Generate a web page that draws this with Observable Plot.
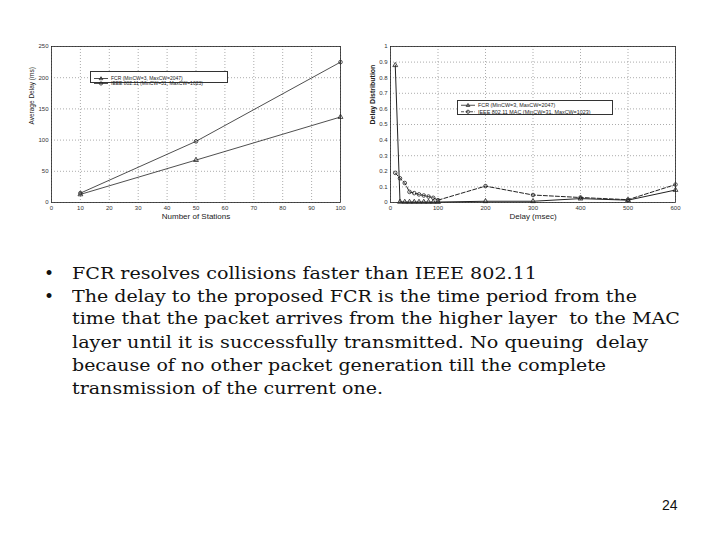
<!DOCTYPE html>
<html><head><meta charset="utf-8">
<script src="https://cdn.jsdelivr.net/npm/d3@7"></script>
<script src="https://cdn.jsdelivr.net/npm/@observablehq/plot@0.6"></script>
<style>
html,body{margin:0;padding:0;background:#fff}
body{width:720px;height:540px;position:relative;overflow:hidden;font-family:"Liberation Sans",Arial,sans-serif}
.chart{position:absolute}
.line{position:absolute;font-family:"DejaVu Serif",serif;font-size:17px;line-height:20px;white-space:pre;transform-origin:0 0;color:#111}
.bullet{position:absolute;font-family:"DejaVu Serif",serif;font-size:17px;line-height:20px;color:#111}
.legend{position:absolute;border:1px solid #333;background:#fff}
#page{position:absolute;left:662px;top:497px;font-size:14px;color:#111}
</style></head>
<body>
<div id="left" class="chart" style="left:10px;top:36px"></div>
<div id="right" class="chart" style="left:362px;top:36px"></div>
<div id="text"></div>
<div id="page">24</div>
<script>
// ---- data ----
const stations = [10, 50, 100];
const fcrAvgDelay = [13, 68, 137];
const ieeeAvgDelay = [15, 98, 225];

const delayMsec = [10, 20, 30, 40, 50, 60, 70, 80, 90, 100, 200, 300, 400, 500, 600];
const fcrDist  = [0.88, 0.004, 0.003, 0.003, 0.003, 0.003, 0.003, 0.003, 0.003, 0.003, 0.008, 0.008, 0.025, 0.015, 0.08];
const ieeeDist = [0.19, 0.155, 0.125, 0.068, 0.06, 0.052, 0.045, 0.038, 0.03, 0.015, 0.105, 0.048, 0.032, 0.018, 0.115];

const leftXTicks = [0, 10, 20, 30, 40, 50, 60, 70, 80, 90, 100];
const leftYTicks = [0, 50, 100, 150, 200, 250];
const rightXTicks = [0, 100, 200, 300, 400, 500, 600];
const rightYTicks = [0, 0.1, 0.2, 0.3, 0.4, 0.5, 0.6, 0.7, 0.8, 0.9, 1];

const leftSeries = ["FCR (MinCW=3, MaxCW=2047)", "IEEE 802.11 (MinCW=31, MaxCW=1023)"];
const rightSeries = ["FCR (MinCW=3, MaxCW=2047)", "IEEE 802.11 MAC (MinCW=31, MaxCW=1023)"];

const bulletLines = [
  "FCR resolves collisions faster than IEEE 802.11",
  "The delay to the proposed FCR is the time period from the",
  "time that the packet arrives from the higher layer  to the MAC",
  "layer until it is successfully transmitted. No queuing  delay",
  "because of no other packet generation till the complete",
  "transmission of the current one."
];
const bulletFlags = [true, true, false, false, false, false];

// ---- tables ----
const leftData = stations.flatMap((s, i) => [
  {x: s, y: fcrAvgDelay[i], series: leftSeries[0]},
  {x: s, y: ieeeAvgDelay[i], series: leftSeries[1]}
]);
const rightData = delayMsec.flatMap((d, i) => [
  {x: d, y: fcrDist[i], series: rightSeries[0]},
  {x: d, y: ieeeDist[i], series: rightSeries[1]}
]);

const ink = "#222";
const gridStyle = {stroke: "#888", strokeOpacity: 1, strokeDasharray: "1,2", strokeWidth: 0.7};

// ---- left chart ----
const left = Plot.plot({
  width: 345, height: 186,
  marginLeft: 41, marginRight: 15, marginTop: 10, marginBottom: 20,
  style: {fontFamily: "Liberation Sans, Arial, sans-serif", fontSize: "6px", color: "#333", background: "transparent"},
  x: {domain: [0, 100]},
  y: {domain: [0, 250]},
  marks: [
    Plot.gridX(leftXTicks, gridStyle),
    Plot.gridY(leftYTicks, gridStyle),
    Plot.axisX(leftXTicks, {tickSize: 0, tickPadding: 3, label: null, fontSize: 6}),
    Plot.axisY(leftYTicks, {tickSize: 0, tickPadding: 3, label: null, fontSize: 6}),
    Plot.frame({stroke: ink, strokeWidth: 0.8}),
    Plot.line(leftData, {x: "x", y: "y", z: "series", stroke: ink, strokeWidth: 0.8}),
    Plot.dot(leftData, {x: "x", y: "y", symbol: d => d.series === leftSeries[0] ? "triangle" : "circle", r: 1.8, stroke: ink, strokeWidth: 0.8, fill: "none"}),
    Plot.text(["Number of Stations"], {text: d => d, frameAnchor: "bottom", dy: 16, fontSize: 8, fill: "#222"}),
    Plot.text(["Average Delay (ms)"], {text: d => d, frameAnchor: "left", dx: -20, rotate: -90, fontSize: 6.5, fill: "#222"})
  ]
});
document.getElementById("left").append(left);

// ---- right chart ----
const right = Plot.plot({
  width: 325, height: 186,
  marginLeft: 28, marginRight: 12, marginTop: 10, marginBottom: 20,
  style: {fontFamily: "Liberation Sans, Arial, sans-serif", fontSize: "6px", color: "#333", background: "transparent"},
  x: {domain: [0, 600]},
  y: {domain: [0, 1]},
  marks: [
    Plot.gridX(rightXTicks, gridStyle),
    Plot.gridY(rightYTicks, gridStyle),
    Plot.axisX(rightXTicks, {tickSize: 0, tickPadding: 3, label: null, fontSize: 6}),
    Plot.axisY(rightYTicks, {tickSize: 0, tickPadding: 3, label: null, fontSize: 6, tickFormat: d => String(d)}),
    Plot.frame({stroke: ink, strokeWidth: 0.8}),
    Plot.line(rightData.filter(d => d.series === rightSeries[0]), {x: "x", y: "y", stroke: ink, strokeWidth: 1}),
    Plot.line(rightData.filter(d => d.series === rightSeries[1]), {x: "x", y: "y", stroke: ink, strokeWidth: 1, strokeDasharray: "4,2"}),
    Plot.dot(rightData, {x: "x", y: "y", symbol: d => d.series === rightSeries[0] ? "triangle" : "circle", r: 1.8, stroke: ink, strokeWidth: 0.8, fill: "none"}),
    Plot.text(["Delay (msec)"], {text: d => d, frameAnchor: "bottom", dy: 16, fontSize: 8, fill: "#222"}),
    Plot.text(["Delay Distribution"], {text: d => d, frameAnchor: "left", dx: -18, rotate: -90, fontSize: 7, fontWeight: "bold", fill: "#222"})
  ]
});
document.getElementById("right").append(right);

// ---- legends ----
function legend(labels, dashed, left, top, w, h, fs) {
  const div = document.createElement("div");
  div.className = "legend";
  div.style.left = left + "px"; div.style.top = top + "px";
  div.style.width = w + "px"; div.style.height = h + "px";
  const ns = "http://www.w3.org/2000/svg";
  const svg = document.createElementNS(ns, "svg");
  svg.setAttribute("width", w); svg.setAttribute("height", h);
  labels.forEach((lab, i) => {
    const cy = h * (i + 0.5) / labels.length;
    const ln = document.createElementNS(ns, "line");
    ln.setAttribute("x1", 3); ln.setAttribute("x2", 17); ln.setAttribute("y1", cy); ln.setAttribute("y2", cy);
    ln.setAttribute("stroke", "#222"); ln.setAttribute("stroke-width", 0.8);
    if (dashed[i]) ln.setAttribute("stroke-dasharray", "3,1.5");
    svg.append(ln);
    const sym = document.createElementNS(ns, "path");
    sym.setAttribute("d", i === 0 ? `M10,${cy-1.8}L11.8,${cy+1.2}L8.2,${cy+1.2}Z` : `M11.6,${cy}A1.6,1.6 0 1 1 8.4,${cy}A1.6,1.6 0 1 1 11.6,${cy}`);
    sym.setAttribute("fill", "none"); sym.setAttribute("stroke", "#222"); sym.setAttribute("stroke-width", 0.8);
    svg.append(sym);
    const t = document.createElementNS(ns, "text");
    t.setAttribute("x", 20); t.setAttribute("y", cy); t.setAttribute("dy", "0.35em");
    t.setAttribute("font-size", fs); t.setAttribute("fill", "#222");
    t.setAttribute("font-family", "Liberation Sans, Arial, sans-serif");
    t.textContent = lab;
    svg.append(t);
    const tw = t.getComputedTextLength ? null : null;
    const maxW = w - 23;
    // fit text inside the box
    requestAnimationFrame(() => {
      const len = t.getComputedTextLength();
      if (len > maxW) { t.setAttribute("textLength", maxW); t.setAttribute("lengthAdjust", "spacingAndGlyphs"); }
    });
  });
  div.append(svg);
  document.body.append(div);
}
legend(leftSeries, [false, false], 90, 71, 136, 10, 5);
legend(rightSeries, [false, true], 457, 100, 154, 13, 5.4);

// ---- bullet text ----
const lineTops = [263, 286, 308, 332, 355, 378];
const lineEnds = [537, 637, 680, 648, 606, 383];
const textDiv = document.getElementById("text");
bulletLines.forEach((s, i) => {
  if (bulletFlags[i]) {
    const b = document.createElement("div");
    b.className = "bullet"; b.textContent = "•";
    b.style.left = "44px"; b.style.top = lineTops[i] + "px";
    textDiv.append(b);
  }
  const d = document.createElement("div");
  d.className = "line"; d.textContent = s;
  d.style.left = "72px"; d.style.top = lineTops[i] + "px";
  textDiv.append(d);
  const w = d.getBoundingClientRect().width;
  const target = lineEnds[i] - 72;
  d.style.transform = `scaleX(${target / w})`;
});
</script>
</body></html>
